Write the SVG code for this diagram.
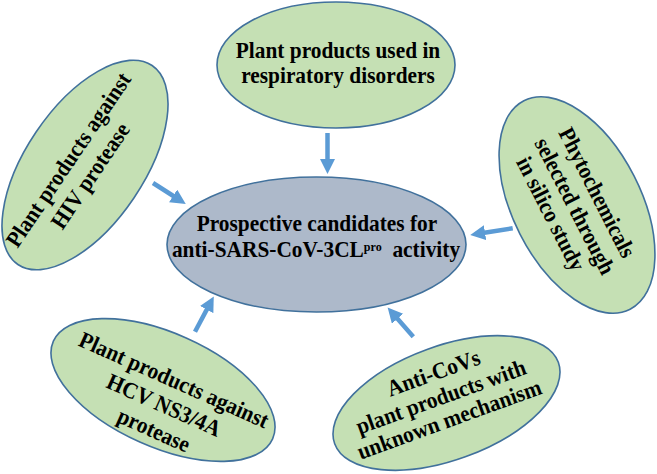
<svg xmlns="http://www.w3.org/2000/svg" width="657" height="474" viewBox="0 0 657 474">
<defs>
<style>
.n{fill:#C5E0B4;stroke:#41719C;stroke-width:1.6}
.c{fill:#ADB9CA;stroke:#41719C;stroke-width:1.6}
.t{font-family:"Liberation Serif","Times New Roman",serif;font-weight:bold;font-size:23px;fill:#000;text-anchor:middle}
.a{stroke:#5B9BD5;stroke-width:4.5;fill:none;marker-end:url(#ah)}
</style>
<marker id="ah" markerUnits="userSpaceOnUse" markerWidth="16" markerHeight="16" refX="4" refY="7.5" orient="auto">
<path d="M0,0 L15,7.5 L0,15 z" fill="#5B9BD5"/>
</marker>
</defs>
<rect width="657" height="474" fill="#fff"/>
<g id="connectors">
<line class="a" x1="327.5" y1="133" x2="327.5" y2="163"/>
<line class="a" x1="153" y1="183" x2="176.5" y2="198"/>
<line class="a" x1="512.7" y1="228.3" x2="481.1" y2="233.3"/>
<line class="a" x1="195" y1="331.7" x2="208.6" y2="306.1"/>
<line class="a" x1="413.3" y1="336.7" x2="394.9" y2="315.8"/>
</g>
<g id="center">
<ellipse class="c" cx="316.5" cy="244.5" rx="149.5" ry="67.5"/>
<text class="t" transform="translate(317,231) scale(.93,1)">Prospective candidates for</text>
<text class="t" transform="translate(316,257) scale(.93,1)" xml:space="preserve">anti-SARS-CoV-3CL<tspan font-size="13" dy="-6">pro</tspan><tspan dy="6">  activity</tspan></text>
</g>
<g id="top">
<ellipse class="n" cx="336" cy="65" rx="119" ry="63"/>
<text class="t" transform="translate(338,58) scale(.93,1)">Plant products used in</text>
<text class="t" transform="translate(338,83) scale(.93,1)">respiratory disorders</text>
</g>
<g id="left" transform="translate(85,165) rotate(-56)">
<ellipse class="n" cx="0" cy="0" rx="120" ry="59"/>
<text class="t" transform="translate(-5,-9) scale(.93,1)">Plant products against</text>
<text class="t" transform="translate(-6,18) scale(.93,1)">HIV protease</text>
</g>
<g id="right" transform="translate(577,205) rotate(63)">
<ellipse class="n" cx="0" cy="0" rx="117" ry="64"/>
<text class="t" transform="translate(-2,-16) scale(.93,1)">Phytochemicals</text>
<text class="t" transform="translate(0,10) scale(.93,1)">selected through</text>
<text class="t" transform="translate(-4,35) scale(.93,1)">in silico study</text>
</g>
<g id="bottom-left" transform="translate(163,390) rotate(24)">
<ellipse class="n" cx="0" cy="0" rx="120" ry="57"/>
<text class="t" transform="translate(6,-6) scale(.93,1)">Plant products against</text>
<text class="t" transform="translate(7,21) scale(.93,1)">HCV NS3/4A</text>
<text class="t" transform="translate(8,48) scale(.93,1)">protease</text>
</g>
<g id="bottom-right" transform="translate(446.5,403) rotate(-20)">
<ellipse class="n" cx="0" cy="0" rx="119" ry="57"/>
<text class="t" transform="translate(-2,-25) scale(.93,1)">Anti-CoVs</text>
<text class="t" transform="translate(-3,0) scale(.93,1)">plant products with</text>
<text class="t" transform="translate(-3,24) scale(.93,1)">unknown mechanism</text>
</g>
</svg>
